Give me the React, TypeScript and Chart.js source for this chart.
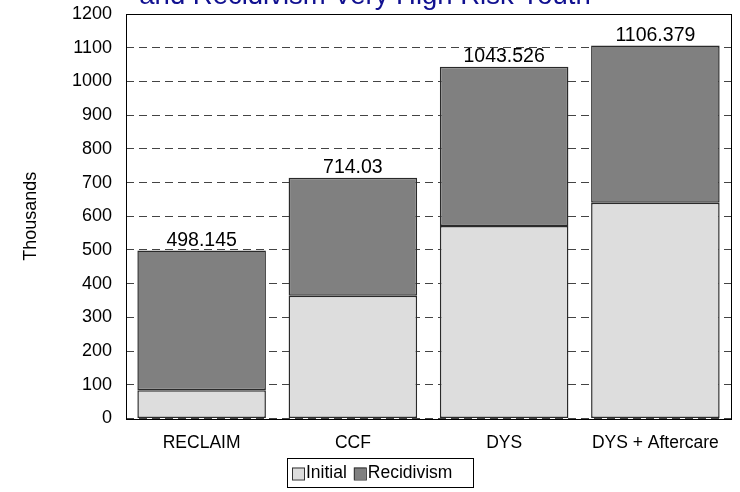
import React, { useEffect, useRef } from "react";
import { Chart, registerables } from "chart.js";

Chart.register(...registerables);

const categories = ["RECLAIM", "CCF", "DYS", "DYS + Aftercare"];
const initialValues = [84, 364, 571, 640];
const totals = [498.145, 714.03, 1043.526, 1106.379];
const recidivismValues = totals.map((t, i) => t - initialValues[i]);
const totalLabels = ["498.145", "714.03", "1043.526", "1106.379"];
const titleText = "and Recidivism Very High Risk Youth";
const seriesNames = ["Initial", "Recidivism"];
const seriesColors = ["#dddddd", "#808080"];

const FONT = "'Liberation Sans', Arial, sans-serif";

const framePlugin = {
  id: "frame",
  afterDatasetsDraw(chart: any) {
    const { ctx, chartArea } = chart;
    ctx.save();
    ctx.strokeStyle = "#000000";
    ctx.lineWidth = 1;
    ctx.strokeRect(
      Math.round(chartArea.left) + 0.5,
      Math.round(chartArea.top) + 0.5,
      Math.round(chartArea.right - chartArea.left),
      Math.round(chartArea.bottom - chartArea.top)
    );
    ctx.restore();
  },
  afterDraw(chart: any) {
    const { ctx } = chart;
    ctx.save();
    // total labels
    const meta = chart.getDatasetMeta(1);
    ctx.fillStyle = "#000000";
    ctx.font = `19.5px ${FONT}`;
    ctx.textAlign = "center";
    ctx.textBaseline = "alphabetic";
    meta.data.forEach((el: any, i: number) => {
      ctx.fillText(totalLabels[i], el.x, el.y - 5);
    });
    // title (clipped at top)
    ctx.fillStyle = "#101090";
    ctx.font = `27.5px ${FONT}`;
    ctx.textAlign = "center";
    ctx.fillText(titleText, 365, 4);
    // legend
    const bx = 287, by = 458, bw = 186, bh = 29;
    ctx.strokeStyle = "#000000";
    ctx.lineWidth = 1;
    ctx.strokeRect(bx + 0.5, by + 0.5, bw, bh);
    ctx.font = `17.5px ${FONT}`;
    ctx.textAlign = "left";
    ctx.textBaseline = "middle";
    let x = bx + 5;
    const cy = by + bh / 2 + 1;
    seriesNames.forEach((name, i) => {
      ctx.fillStyle = seriesColors[i];
      ctx.fillRect(x, cy - 6, 12, 12);
      ctx.strokeStyle = "#333333";
      ctx.strokeRect(x + 0.5, cy - 5.5, 12, 12);
      ctx.fillStyle = "#000000";
      ctx.fillText(name, x + 14, cy);
      x += 14 + ctx.measureText(name).width + 7;
    });
    ctx.restore();
  },
};

export default function App() {
  const canvasRef = useRef<HTMLCanvasElement | null>(null);

  useEffect(() => {
    if (!canvasRef.current) return;
    const chart = new Chart(canvasRef.current, {
      type: "bar",
      data: {
        labels: categories,
        datasets: [
          {
            label: seriesNames[0],
            data: initialValues,
            backgroundColor: seriesColors[0],
            borderColor: "#2a2a2a",
            borderWidth: 1.5,
            borderSkipped: false,
            barPercentage: 0.85,
            categoryPercentage: 1,
          },
          {
            label: seriesNames[1],
            data: recidivismValues,
            backgroundColor: seriesColors[1],
            borderColor: "#2a2a2a",
            borderWidth: 1.5,
            borderSkipped: false,
            barPercentage: 0.85,
            categoryPercentage: 1,
          },
        ],
      },
      options: {
        responsive: false,
        animation: false,
        layout: { padding: { top: 14, right: 9, left: 0, bottom: 0 } },
        plugins: {
          legend: { display: false },
          tooltip: { enabled: false },
          title: { display: false },
        },
        scales: {
          x: {
            stacked: true,
            grid: { display: false, drawTicks: false },
            border: { display: false },
            ticks: {
              color: "#000000",
              font: { family: FONT, size: 17.5 },
              padding: 14,
              maxRotation: 0,
            },
            afterFit: (scale: any) => {
              scale.height = 73.5;
              scale.paddingLeft = 0;
              scale.paddingRight = 0;
            },
          },
          y: {
            stacked: true,
            min: 0,
            max: 1200,
            grid: {
              color: "#444444",
              lineWidth: 1,
              drawTicks: false,
            },
            border: { display: false, dash: [8, 5] },
            ticks: {
              stepSize: 100,
              color: "#000000",
              font: { family: FONT, size: 18 },
              padding: 14,
              callback: (v: any) => String(v),
            },
            title: {
              display: true,
              text: "Thousands",
              color: "#000000",
              font: { family: FONT, size: 18 },
              padding: { top: 20, bottom: 0 },
            },
            afterFit: (scale: any) => {
              scale.width = 126;
              scale.paddingTop = 0;
              scale.paddingBottom = 0;
            },
          },
        },
      },
      plugins: [framePlugin],
    });
    return () => chart.destroy();
  }, []);

  return (
    <div style={{ position: "fixed", left: 0, top: 0, width: 740, height: 492, background: "#ffffff" }}>
      <canvas ref={canvasRef} width={740} height={492} style={{ width: 740, height: 492, display: "block" }} />
    </div>
  );
}
